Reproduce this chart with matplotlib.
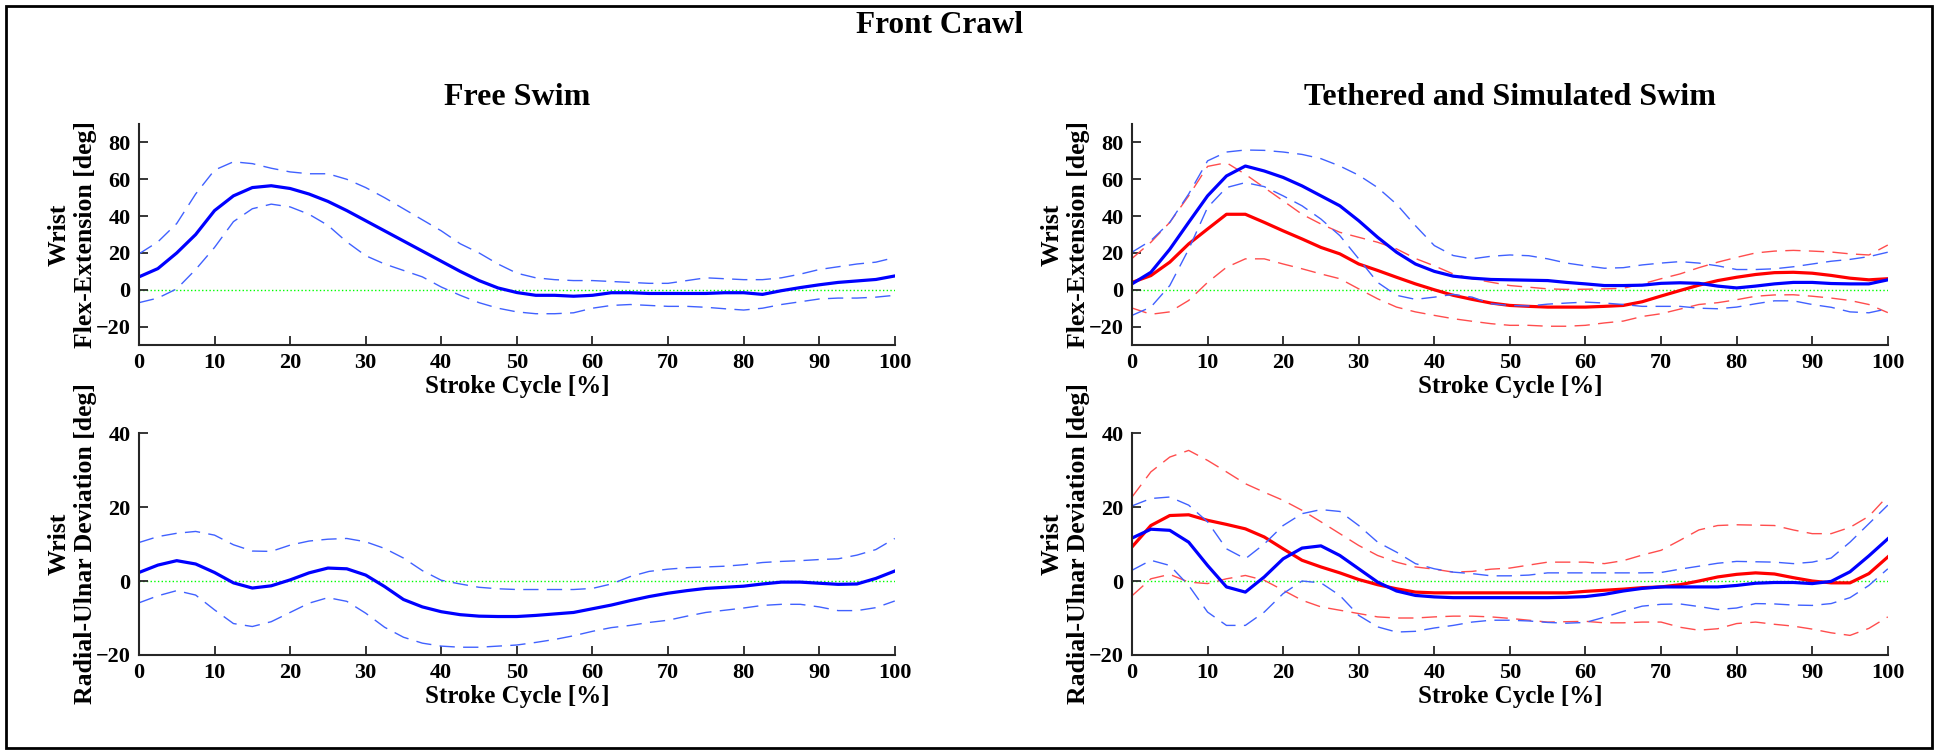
import numpy as np
import matplotlib
matplotlib.use("Agg")
import matplotlib.pyplot as plt
from matplotlib.patches import Rectangle

plt.rcParams['font.family'] = ['Liberation Serif', 'DejaVu Serif']
plt.rcParams['font.weight'] = 'bold'

# stroke cycle, read every 2.5 %
stroke = np.arange(0, 101, 2.5)

# free swim, flexion-extension
free_fe_mean = [7, 11.5, 20, 30, 43, 51, 55.5, 56.5, 55, 52, 48, 43, 37.5, 32, 26.5, 21, 15.5, 10, 5, 1,
                -1.5, -3, -3, -3.5, -3, -1.6, -1.6, -2, -2, -2, -2, -1.6, -1.6, -2.5, -0.5, 1.2, 2.7, 4, 4.8, 5.6, 7.5]
free_fe_hi = [19.5, 26, 36, 52, 65, 69.5, 68.5, 66, 64, 63, 63, 60, 55.5, 50, 44, 38, 32, 25, 20, 14,
              9, 6.5, 5.5, 5, 5, 4.5, 4, 3.5, 3.5, 5, 6.5, 6, 5.5, 5.5, 6.5, 8.5, 11, 12.5, 14, 15, 17.5]
free_fe_lo = [-7, -4.5, 0.5, 11, 23, 37, 44, 46.5, 45, 41, 35, 26, 18.5, 14, 10.5, 7, 1.5, -3, -7, -10,
              -12, -13, -13, -12.5, -10, -8.5, -8, -8.5, -9, -9, -9.5, -10.3, -11, -10, -8, -6.5, -5, -4.5, -4.5, -4, -3]

# free swim, radial-ulnar deviation
free_ru_mean = [2.3, 4.3, 5.5, 4.6, 2.3, -0.5, -1.9, -1.3, 0.3, 2.2, 3.5, 3.3, 1.6, -1.5, -5, -7, -8.3, -9.1, -9.5, -9.6,
                -9.6, -9.3, -8.9, -8.5, -7.5, -6.5, -5.3, -4.2, -3.3, -2.6, -2, -1.7, -1.4, -0.8, -0.3, -0.3, -0.6, -0.9, -0.8, 0.7, 2.7]
free_ru_hi = [10.4, 12, 12.9, 13.4, 12.4, 9.8, 8.1, 8, 9.7, 10.8, 11.3, 11.5, 10.6, 8.8, 6.2, 2.8, 0.2, -0.8, -1.7, -2.1,
              -2.3, -2.3, -2.3, -2.3, -2, -0.8, 1.2, 2.6, 3.2, 3.6, 3.8, 4, 4.4, 5, 5.3, 5.5, 5.8, 6, 7, 8.5, 11.5]
free_ru_lo = [-5.9, -4, -2.6, -3.8, -7.8, -11.5, -12.3, -11, -8.5, -6, -4.5, -5.5, -8.7, -12.5, -15.2, -16.8, -17.6, -17.9, -17.9, -17.6,
              -17.3, -16.6, -15.8, -14.8, -13.6, -12.6, -12, -11.2, -10.6, -9.5, -8.5, -7.9, -7.3, -6.6, -6.3, -6.3, -7, -8, -8, -7.2, -5.4]

# tethered (blue), flexion-extension
teth_fe_mean = [3.2, 9.5, 22, 36.6, 51, 61.8, 67.2, 64.5, 61, 56.4, 51, 45.6, 37.5, 28.5, 20.4, 14, 10, 7.4, 6.3, 5.6,
                5.4, 5.2, 5, 4, 3.2, 2.3, 2.3, 2.5, 3.5, 3.8, 3.5, 2, 1, 2, 3.2, 4, 4, 3.4, 3.2, 3.2, 5.4]
teth_fe_hi = [20.4, 26.7, 36.6, 52, 70, 74.8, 75.9, 75.7, 74.8, 73.5, 71.2, 67.2, 62.2, 55.5, 46.5, 34.8, 24, 18.6, 16.8, 18.2,
              18.9, 18.5, 16.8, 14.5, 13, 11.7, 12, 13.5, 14.5, 15.3, 14.5, 13, 11, 11, 11.4, 12.5, 14, 15.5, 16.5, 18, 20.4]
teth_fe_lo = [-13.9, -9.4, 2.3, 22, 44.7, 55.5, 58.2, 56, 51, 45.6, 38.4, 29.4, 16.8, 4, -3, -5.2, -4, -2.5, -4, -7.6,
              -8.5, -8.8, -7.8, -7.2, -6.7, -7.2, -8, -9, -9, -9, -10, -10.3, -9.4, -7.6, -6, -6, -8, -9.5, -12, -12.5, -10.3]

# simulated (red), flexion-extension
sim_fe_mean = [4, 7.7, 15, 24.9, 33, 41, 41, 36.6, 32, 27.6, 23, 19.5, 14, 10.5, 6.8, 3.2, 0, -3, -5.2, -7.2,
               -8.5, -9, -9.4, -9.4, -9.4, -9, -8.5, -6.5, -3.4, -0.4, 2.5, 5, 6.8, 8.3, 9.3, 9.5, 9, 7.8, 6.3, 5.4, 6]
sim_fe_hi = [17, 25.8, 36.6, 51, 67, 69, 62.7, 55.5, 48.3, 41, 35.7, 31.2, 28.5, 25.8, 22.2, 17, 13, 8.6, 6, 4.1,
             2.3, 1.4, 0.5, 0.2, 0.3, 0.5, 0.8, 3.2, 6, 8.6, 12, 15, 17.6, 20, 21, 21.4, 21, 20.5, 19.5, 18.9, 24.3]
sim_fe_lo = [-9.9, -13.3, -12, -5.8, 4, 12.2, 16.8, 16.8, 14, 11.4, 8.6, 6, 0.5, -4.9, -9.4, -12, -13.9, -15.7, -17.1, -18.4,
             -19.3, -19.3, -19.8, -19.8, -19.3, -18, -17, -14.5, -13, -10.5, -8, -7, -5.4, -3.5, -2.8, -2.7, -3.5, -4.5, -5.8, -8, -12.4]

# tethered (blue), radial-ulnar deviation
teth_ru_mean = [11.6, 14, 13.7, 10.5, 4.2, -1.6, -3, 1.1, 6, 8.9, 9.5, 6.9, 3.3, -0.3, -2.7, -3.9, -4.3, -4.5, -4.5, -4.5,
                -4.5, -4.5, -4.5, -4.4, -4.2, -3.6, -2.7, -2, -1.6, -1.6, -1.6, -1.6, -1.2, -0.6, -0.4, -0.4, -0.7, -0.1, 2.5, 6.8, 11.4]
teth_ru_hi = [20.3, 22.3, 22.7, 20.5, 16, 8.7, 6, 10, 15, 18.2, 19.3, 18.8, 15, 10.5, 7.8, 4.7, 3.3, 2.4, 2, 1.4,
              1.4, 1.6, 2.2, 2.2, 2.2, 2.2, 2.2, 2.2, 2.3, 3.2, 4, 4.8, 5.3, 5.2, 5.1, 4.7, 5.1, 6.2, 10.5, 15.5, 20.5]
teth_ru_lo = [2.9, 5.6, 4.2, -1.2, -8.4, -12, -12, -8.4, -3.4, 0, -0.5, -3.9, -9.3, -12.4, -13.8, -13.6, -12.7, -12, -11.1, -10.6,
              -10.6, -10.8, -11.2, -11.4, -11.2, -9.8, -8.2, -6.8, -6.3, -6.2, -6.9, -7.7, -7.3, -6.1, -6.2, -6.5, -6.6, -6.1, -4.5, -1.2, 3.3]

# simulated (red), radial-ulnar deviation
sim_ru_mean = [9.2, 15, 17.7, 17.9, 16.4, 15.3, 14.1, 11.9, 8.7, 5.6, 3.8, 2.2, 0.4, -1, -2.1, -3, -3.2, -3.2, -3.2, -3.2,
               -3.2, -3.2, -3.2, -3.2, -2.8, -2.5, -2.2, -1.8, -1.6, -1, 0, 1.1, 1.8, 2.2, 1.9, 0.9, 0, -0.5, -0.5, 2, 6.5]
sim_ru_hi = [22.7, 29.5, 33.5, 35.3, 32.6, 29.5, 26.3, 24, 21.8, 19.1, 16, 12.8, 9.6, 6.9, 5.1, 3.8, 3.2, 2.4, 2.6, 3.2,
             3.5, 4.3, 5.1, 5.1, 5.1, 4.7, 5.5, 7, 8.3, 11, 13.8, 15, 15.2, 15.1, 15, 13.8, 12.8, 12.8, 14.5, 17.5, 23]
sim_ru_lo = [-4, 0.6, 1.8, -0.3, -0.7, 0.6, 1.5, 0.2, -2.5, -5.2, -7, -7.9, -8.8, -9.7, -10, -10, -9.7, -9.5, -9.5, -9.7,
             -10.1, -10.6, -11.1, -11, -10.9, -11.3, -11.3, -11.1, -11.1, -12.5, -13.3, -12.9, -11.5, -11.1, -11.7, -12.2, -13, -14, -14.7, -12.8, -9.7]

BLUE = (0.0, 0.0, 1.0)
RED = (1.0, 0.0, 0.0)
BLUE_D = (0.25, 0.38, 1.0)
RED_D = (1.0, 0.3, 0.3)


def draw_band(ax, mean, hi, lo, col, dcol):
    for band in (hi, lo):
        ax.plot(stroke, band, color=dcol, lw=1.0, dashes=(11, 6))
    ax.plot(stroke, mean, color=col, lw=2.3)


def style(ax, ylim, yticks, ylab):
    ax.axhline(0, color=(0.0, 1.0, 0.0), lw=1.0, ls=':', zorder=0)
    ax.set_xlim(0, 100)
    ax.set_ylim(*ylim)
    ax.set_xticks(range(0, 101, 10))
    ax.set_yticks(yticks)
    for s in ('top', 'right'):
        ax.spines[s].set_visible(False)
    for s in ('left', 'bottom'):
        ax.spines[s].set_linewidth(1.5)
        ax.spines[s].set_color('#262626')
    ax.tick_params(direction='in', length=6.5, width=1.3, color='#262626',
                   labelsize=16, pad=6)
    ax.set_xlabel('Stroke Cycle [%]', fontsize=18, fontweight='bold', labelpad=1)
    ax.set_ylabel(ylab, fontsize=18.5, fontweight='bold', linespacing=1.15)
    ax.yaxis.set_label_coords(-0.056, 0.5)


fig = plt.figure(figsize=(19.38, 7.54), dpi=100)
axw = 0.39
ax_tl = fig.add_axes([0.0717, 0.5424, axw, 0.2931])
ax_bl = fig.add_axes([0.0717, 0.1313, axw, 0.2944])
ax_tr = fig.add_axes([0.5841, 0.5424, axw, 0.2931])
ax_br = fig.add_axes([0.5841, 0.1313, axw, 0.2944])

fe_label = 'Wrist\nFlex-Extension [deg]'
ru_label = 'Wrist\nRadial-Ulnar Deviation [deg]'

style(ax_tl, (-30, 90), range(-20, 81, 20), fe_label)
draw_band(ax_tl, free_fe_mean, free_fe_hi, free_fe_lo, BLUE, BLUE_D)

style(ax_bl, (-20, 40), range(-20, 41, 20), ru_label)
draw_band(ax_bl, free_ru_mean, free_ru_hi, free_ru_lo, BLUE, BLUE_D)

style(ax_tr, (-30, 90), range(-20, 81, 20), fe_label)
draw_band(ax_tr, sim_fe_mean, sim_fe_hi, sim_fe_lo, RED, RED_D)
draw_band(ax_tr, teth_fe_mean, teth_fe_hi, teth_fe_lo, BLUE, BLUE_D)

style(ax_br, (-20, 40), range(-20, 41, 20), ru_label)
draw_band(ax_br, sim_ru_mean, sim_ru_hi, sim_ru_lo, RED, RED_D)
draw_band(ax_br, teth_ru_mean, teth_ru_hi, teth_ru_lo, BLUE, BLUE_D)

fig.text(0.485, 0.956, 'Front Crawl', ha='center', va='baseline', fontsize=22.5, fontweight='bold')
fig.text(0.0717 + axw / 2, 0.861, 'Free Swim', ha='center', va='baseline', fontsize=23, fontweight='bold')
fig.text(0.5841 + axw / 2, 0.861, 'Tethered and Simulated Swim', ha='center', va='baseline',
         fontsize=23, fontweight='bold')

# frame round the whole figure
fig.patches.append(Rectangle((0.0031, 0.008), 0.9938, 0.984, transform=fig.transFigure,
                             fill=False, lw=2, ec='black'))

fig.savefig('out.png', dpi=100)
